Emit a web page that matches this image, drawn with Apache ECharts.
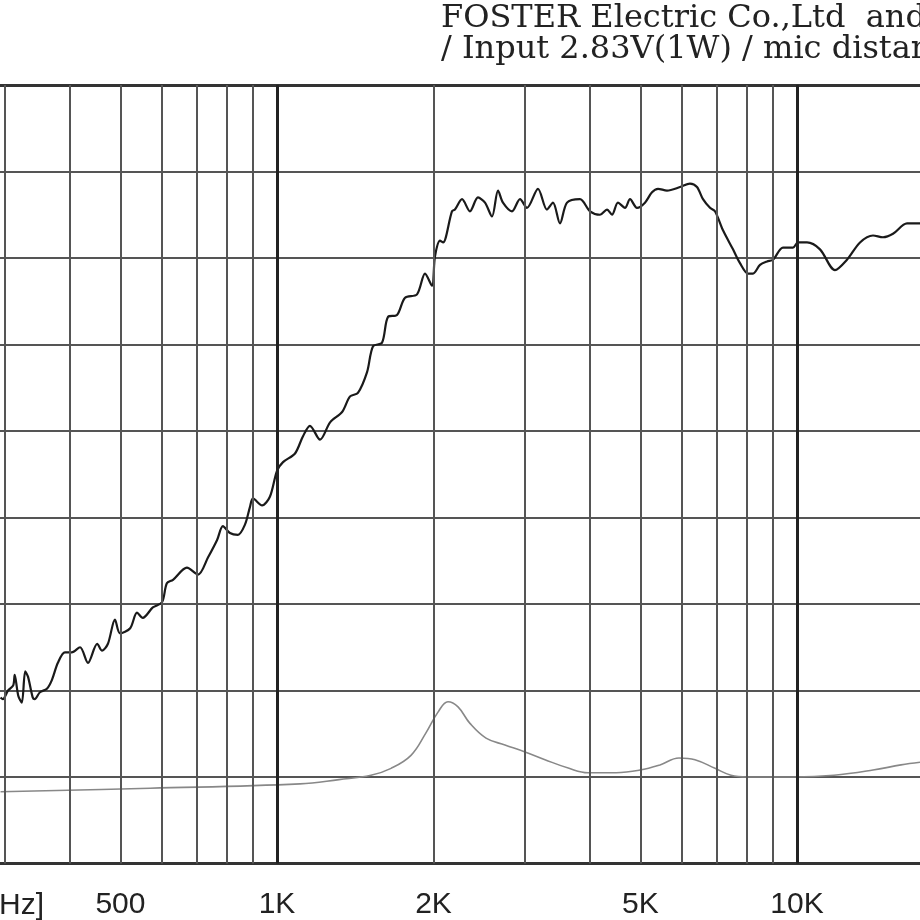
<!DOCTYPE html>
<html>
<head>
<meta charset="utf-8">
<script src="https://cdn.jsdelivr.net/npm/echarts@6/dist/echarts.min.js"></script>
<style>
  html, body { margin: 0; padding: 0; background: #fff; }
  #chart { width: 920px; height: 920px; }
</style>
</head>
<body>
<div id="chart"></div>
<script>
// SPL curve (Hz, dB)
var splFreq = [294,297,304,311,313,318,323,328,332,339,342,350,361,369,379,391,403,418,433,451,461,473,488,499,522,538,552,577,601,614,631,671,705,737,767,787,812,841,868,887,899,936,969,1000,1027,1083,1122,1157,1210,1265,1334,1382,1431,1490,1530,1592,1635,1701,1763,1859,1926,1986,2013,2058,2086,2170,2199,2269,2350,2435,2512,2591,2661,2720,2831,2933,3025,3176,3305,3394,3501,3612,3825,3999,4180,4311,4408,4526,4669,4774,4924,5101,5262,5404,5623,5956,6226,6422,6595,6803,6955,7206,7532,7769,8049,8230,8489,8756,8992,9399,9824,10044,10453,11072,11832,12478,13218,14001,14635,15297,16276,17240];
var splDb = [59.6,59.5,60.0,60.3,60.9,59.7,59.3,61.1,60.8,59.6,59.5,59.9,60.1,60.6,61.6,62.2,62.2,62.5,61.6,62.7,62.3,62.7,64.1,63.3,63.6,64.5,64.2,64.8,65.1,66.2,66.4,67.1,66.7,67.7,68.7,69.5,69.1,69.0,69.6,70.6,71.1,70.7,71.2,72.7,73.2,73.7,74.7,75.3,74.5,75.5,76.1,77.0,77.2,78.4,79.9,80.1,81.6,81.7,82.7,82.9,84.1,83.4,85.1,86.0,85.9,87.7,87.8,88.4,87.7,88.5,88.2,87.4,88.9,88.2,87.7,88.4,87.9,89.0,87.8,88.2,87.0,88.2,88.4,87.7,87.5,87.8,87.5,88.2,87.9,88.4,87.9,88.2,88.8,89.0,88.9,89.1,89.3,89.1,88.4,87.9,87.7,86.6,85.5,84.7,84.1,84.1,84.6,84.8,84.9,85.6,85.6,85.9,85.9,85.5,84.3,84.9,85.9,86.3,86.2,86.4,87.0,87.0];

// impedance curve (Hz, ohm)
var impFreq = [294,570,1107,1316,1516,1657,1810,1934,2040,2132,2229,2350,2523,2744,2999,3276,3644,3964,4487,4989,5452,5930,6365,6955,7466,8014,9868,11780,14001,15849,17240];
var impOhm = [8.3,8.7,9.2,9.7,10.2,11.0,12.5,15.1,17.5,18.7,18.1,16.2,14.5,13.7,12.9,12.0,11.0,10.5,10.5,10.8,11.4,12.2,12.0,11.0,10.2,10.0,10.0,10.2,10.8,11.4,11.7];

// grid lines and tick labels
var minorFreqs = [300,400,500,600,700,800,900,2000,3000,4000,5000,6000,7000,8000,9000];
var majorFreqs = [1000,10000];
var labelFreqs = [500,1000,2000,5000,10000];
var labelTexts = ['500','1K','2K','5K','10K'];

var titleLines = ['FOSTER Electric Co.,Ltd  and', '/ Input 2.83V(1W) / mic distance'];

var fMin = 293.3, fMax = 17240;

var gridMarks = minorFreqs.map(function (f) {
    return { xAxis: f, lineStyle: { color: '#555', width: 2 } };
}).concat(majorFreqs.map(function (f) {
    return { xAxis: f, lineStyle: { color: '#222', width: 3 } };
}));

function pairs(xs, ys) {
    return xs.map(function (x, i) { return [x, ys[i]]; });
}

var option = {
    backgroundColor: '#fff',
    animation: false,
    grid: { left: 0, right: 0, top: 85, bottom: 56.5 },
    xAxis: [{
        type: 'log',
        min: fMin,
        max: fMax,
        position: 'bottom',
        axisLine: { show: true, lineStyle: { color: '#333', width: 3 } },
        axisTick: { show: false },
        splitLine: { show: false },
        axisLabel: {
            customValues: labelFreqs,
            margin: 26,
            fontFamily: 'Liberation Sans',
            fontSize: 30,
            color: '#222',
            formatter: function (v) {
                var i = labelFreqs.indexOf(Math.round(v));
                return i >= 0 ? labelTexts[i] : '';
            }
        }
    }, {
        type: 'log',
        min: fMin,
        max: fMax,
        position: 'top',
        axisLine: { show: true, lineStyle: { color: '#333', width: 3 } },
        axisTick: { show: false },
        axisLabel: { show: false },
        splitLine: { show: false }
    }],
    yAxis: [{
        type: 'value',
        min: 50,
        max: 95,
        interval: 5,
        axisLine: { show: false },
        axisTick: { show: false },
        axisLabel: { show: false },
        splitLine: { show: true, lineStyle: { color: '#555', width: 2 } }
    }, {
        type: 'value',
        min: 0,
        max: 90,
        interval: 10,
        show: false
    }],
    graphic: [{
        type: 'text',
        style: { x: 441, y: 19, text: titleLines[0], font: '32px "DejaVu Serif"', fill: '#222', verticalAlign: 'middle' }
    }, {
        type: 'text',
        style: { x: 441, y: 50, text: titleLines[1], font: '32px "DejaVu Serif"', fill: '#222', verticalAlign: 'middle' }
    }, {
        type: 'text',
        style: { x: 44, y: 906, text: '[Hz]', font: '30px "Liberation Sans"', fill: '#222', align: 'right', verticalAlign: 'middle' }
    }],
    series: [{
        name: 'grid',
        type: 'line',
        data: [],
        z: 1,
        silent: true,
        markLine: {
            silent: true,
            symbol: ['none', 'none'],
            label: { show: false },
            lineStyle: { type: 'solid' },
            data: gridMarks
        }
    }, {
        name: 'impedance',
        type: 'line',
        yAxisIndex: 1,
        data: pairs(impFreq, impOhm),
        smooth: 0.4,
        showSymbol: false,
        z: 3,
        lineStyle: { color: '#888', width: 1.6 }
    }, {
        name: 'SPL',
        type: 'line',
        data: pairs(splFreq, splDb),
        smooth: 0.3,
        showSymbol: false,
        z: 4,
        lineStyle: { color: '#1a1a1a', width: 2.2 }
    }]
};

var chart = echarts.init(document.getElementById('chart'));
chart.setOption(option);
</script>
</body>
</html>
